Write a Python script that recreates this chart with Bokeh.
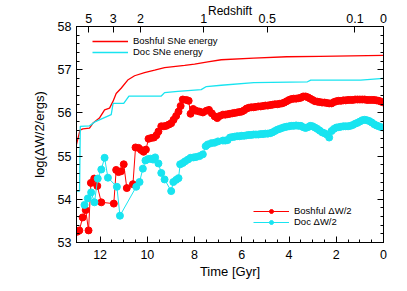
from bokeh.plotting import figure
from bokeh.models import (Range1d, LinearAxis, SingleIntervalTicker, FixedTicker,
                          Legend, LegendItem)
from bokeh.embed import file_html
from bokeh.resources import INLINE

# ---------------- data ----------------
# SNe energy curves (time in Gyr lookback, log energy)
bosh_sne_t = [13.0, 12.85, 12.73, 12.45, 12.31, 12.03, 11.81, 11.60, 11.46, 11.32, 11.11,
              10.83, 10.54, 10.12, 9.69, 9.27, 8.42, 8.0, 7.44, 6.87, 5.5, 4.1, 2.7, 0.0]
bosh_sne_v = [55.27, 55.60, 55.63, 55.65, 55.76, 55.88, 56.07, 56.11, 56.26, 56.45, 56.57,
              56.76, 56.86, 56.93, 56.99, 57.05, 57.10, 57.13, 57.18, 57.23, 57.27, 57.30, 57.31, 57.33]

doc_sne_t = [13.0, 12.87, 12.84, 12.45, 12.2, 11.53, 11.45, 11.0, 10.78, 9.41, 9.27, 8.71,
             7.72, 7.5, 6.87, 5.49, 3.22, 3.08, 0.97, 0.0]
doc_sne_v = [54.19, 54.19, 55.69, 55.70, 55.80, 55.96, 56.22, 56.22, 56.39, 56.39, 56.47, 56.50,
             56.54, 56.61, 56.64, 56.70, 56.72, 56.76, 56.76, 56.80]

# Delta W / 2 series
bosh_dw_t = [12.96, 12.88, 12.74, 12.61, 12.49, 12.39, 12.25, 12.12, 11.95,
             11.42, 11.32, 11.22, 11.11, 11.0, 10.87,
             10.61, 10.50, 10.37, 10.26, 10.16, 10.06, 9.95, 9.83, 9.72, 9.62, 9.53, 9.41,
             9.30, 9.20, 9.09, 8.99, 8.89, 8.78, 8.68, 8.59, 8.50, 8.35, 8.25, 8.17, 8.06,
             7.93, 7.79, 7.65, 7.50, 7.39, 7.27, 7.15, 7.04, 6.93, 6.80,
             6.7, 6.6, 6.5, 6.4, 6.3, 6.2, 6.1, 6.0, 5.9, 5.8, 5.7, 5.6, 5.5, 5.4, 5.3, 5.2,
             5.1, 5.0, 4.9, 4.8, 4.7, 4.6, 4.5, 4.4, 4.3, 4.2, 4.1, 4.0, 3.9, 3.8, 3.7, 3.6,
             3.5, 3.4, 3.3, 3.2, 3.1, 3.0, 2.9, 2.8, 2.7, 2.6, 2.5, 2.4, 2.3, 2.2, 2.1, 2.0,
             1.9, 1.8, 1.7, 1.6, 1.5, 1.4, 1.3, 1.2, 1.1, 1.0, 0.9, 0.8, 0.7, 0.6, 0.5, 0.4,
             0.3, 0.2, 0.1, 0.0]
bosh_dw_v = [53.25, 53.28, 53.58, 53.75, 53.28, 54.38, 54.48, 54.31, 53.93,
             53.90, 54.68, 54.63, 54.65, 54.81, 54.26,
             54.35, 55.20, 55.19, 55.14, 55.10, 55.15, 55.40, 55.42, 55.43, 55.48, 55.57, 55.69,
             55.69, 55.70, 55.73, 55.76, 55.84, 55.93, 56.03, 56.16, 56.31, 56.30, 56.28, 55.98, 56.09,
             56.05, 56.03, 56.01, 56.05, 56.07, 55.99, 55.92, 55.88, 55.93, 55.96,
             55.96, 55.97, 55.98, 55.99, 56.00, 56.01, 56.02, 56.03, 56.06, 56.10, 56.12, 56.13,
             56.13, 56.14, 56.15, 56.15, 56.16, 56.17, 56.17, 56.18, 56.19, 56.20, 56.20, 56.21,
             56.22, 56.24, 56.27, 56.30, 56.32, 56.33, 56.33, 56.34, 56.35, 56.38, 56.38, 56.36,
             56.33, 56.30, 56.27, 56.26, 56.25, 56.24, 56.24, 56.23, 56.22, 56.22, 56.25, 56.27,
             56.28, 56.28, 56.29, 56.29, 56.30, 56.30, 56.30, 56.31, 56.31, 56.31, 56.31, 56.31,
             56.30, 56.30, 56.30, 56.30, 56.29, 56.28, 56.26, 56.24]

doc_dw_t = [12.66, 12.52, 12.38, 12.24, 12.10, 11.95, 11.81, 11.67,
            11.29, 11.16,
            10.47, 10.33, 10.19, 10.08, 9.97, 9.86, 9.76, 9.67, 9.53, 9.41, 9.27,
            8.99, 8.90, 8.78, 8.68, 8.61, 8.50, 8.40, 8.28, 8.17, 8.04, 7.93, 7.79, 7.65,
            7.53, 7.44, 7.29, 7.15, 7.01, 6.80,
            6.7, 6.6, 6.5, 6.4, 6.3, 6.2, 6.1, 6.0, 5.9, 5.8, 5.7, 5.6, 5.5, 5.4, 5.3, 5.2,
            5.1, 5.0, 4.9, 4.8, 4.7, 4.6, 4.5, 4.4, 4.3, 4.2, 4.1, 4.0, 3.9, 3.8, 3.7, 3.6,
            3.5, 3.4, 3.3, 3.2, 3.1, 3.0, 2.9, 2.8, 2.7, 2.6, 2.5, 2.4, 2.3, 2.2, 2.1, 2.0,
            1.9, 1.8, 1.7, 1.6, 1.5, 1.4, 1.3, 1.2, 1.1, 1.0, 0.9, 0.8, 0.7, 0.6, 0.5, 0.4,
            0.3, 0.2, 0.1, 0.0]
doc_dw_v = [53.87, 54.02, 54.16, 53.93, 54.48, 54.69, 54.96, 54.50,
            54.29, 53.62,
            54.29, 54.40, 54.71, 54.90, 54.93, 54.94, 54.92, 54.97, 54.83, 54.61, 54.46,
            54.19, 54.40, 54.45, 54.49, 54.81, 54.84, 54.88, 54.92, 54.96, 54.97, 54.98, 55.00, 55.04,
            55.23, 55.27, 55.30, 55.31, 55.34, 55.36,
            55.36, 55.37, 55.43, 55.44, 55.45, 55.46, 55.46, 55.47, 55.47, 55.48, 55.49, 55.49,
            55.50, 55.50, 55.50, 55.51, 55.51, 55.52, 55.52, 55.53, 55.55, 55.58, 55.61, 55.63,
            55.65, 55.67, 55.68, 55.69, 55.70, 55.70, 55.71, 55.70, 55.70, 55.67, 55.65, 55.67,
            55.70, 55.69, 55.66, 55.63, 55.59, 55.55, 55.53, 55.50, 55.43, 55.58, 55.63, 55.66,
            55.67, 55.68, 55.69, 55.69, 55.69, 55.70, 55.72, 55.75, 55.77, 55.80, 55.83, 55.84,
            55.83, 55.81, 55.78, 55.74, 55.71, 55.69, 55.67, 55.66]

# top axis: redshift labels at their lookback times (Gyr)
z_tick_t = [12.48, 11.44, 10.29, 7.61, 4.92, 1.21, 0.0]
z_tick_labels = ["5", "3", "2", "1", "0.5", "0.1", "0"]

# ---------------- styling ----------------
RED = "#ff0000"
CYAN = "#18e4f0"
FONT = "Liberation Sans"

p = figure(width=407, height=291, output_backend="svg", toolbar_location=None,
           x_range=Range1d(13, 0), y_range=Range1d(53, 58),
           x_axis_location=None, y_axis_location=None,
           min_border_left=76, min_border_right=24, min_border_top=25, min_border_bottom=49)
p.grid.visible = False
p.outline_line_color = "black"
p.outline_line_width = 1
p.background_fill_color = "white"
p.border_fill_color = "white"


def style_axis(ax):
    ax.axis_line_color = "black"
    ax.major_tick_line_color = "black"
    ax.minor_tick_line_color = "black"
    ax.major_tick_in = 6
    ax.major_tick_out = 0
    ax.minor_tick_in = 3
    ax.minor_tick_out = 0
    ax.major_label_text_font = FONT
    ax.major_label_text_font_size = "12.5px"
    ax.major_label_text_color = "black"
    ax.axis_label_text_font = FONT
    ax.axis_label_text_font_size = "13px"
    ax.axis_label_text_font_style = "normal"
    ax.axis_label_text_color = "black"


xb = LinearAxis(ticker=SingleIntervalTicker(interval=2, num_minor_ticks=4), axis_label="Time [Gyr]")
style_axis(xb)
xb.major_label_standoff = 7
xb.axis_label_standoff = 2
p.add_layout(xb, "below")

xt = LinearAxis(ticker=FixedTicker(ticks=z_tick_t, minor_ticks=[]),
                major_label_overrides=dict(zip(z_tick_t, z_tick_labels)),
                axis_label="Redshift")
style_axis(xt)
xt.major_label_standoff = 4
xt.axis_label_text_font_size = "12px"
xt.axis_label_standoff = -7
p.add_layout(xt, "above")

yl = LinearAxis(ticker=SingleIntervalTicker(interval=1, num_minor_ticks=5), axis_label="log(ΔW/2/ergs)")
style_axis(yl)
yl.major_label_standoff = 5
yl.axis_label_standoff = 8
p.add_layout(yl, "left")

yr = LinearAxis(ticker=SingleIntervalTicker(interval=1, num_minor_ticks=5),
                major_label_overrides={k: "" for k in range(53, 59)})
style_axis(yr)
yr.major_label_standoff = 0
p.add_layout(yr, "right")

# ---------------- renderers ----------------
r_bs = p.line(bosh_sne_t, bosh_sne_v, line_color=RED, line_width=1.3)
r_ds = p.line(doc_sne_t, doc_sne_v, line_color=CYAN, line_width=1.3)

r_bl = p.line(bosh_dw_t, bosh_dw_v, line_color=RED, line_width=1)
r_bp = p.scatter(bosh_dw_t, bosh_dw_v, size=7, fill_color=RED, line_color=RED)
r_dl = p.line(doc_dw_t, doc_dw_v, line_color=CYAN, line_width=1)
r_dp = p.scatter(doc_dw_t, doc_dw_v, size=7, fill_color=CYAN, line_color=CYAN)


def make_legend(items, loc):
    return Legend(items=items, location=loc, glyph_width=36, glyph_height=10, label_height=10,
                  padding=0, spacing=-2, margin=0, label_standoff=5,
                  label_text_font=FONT, label_text_font_size="9.5px", label_text_color="black",
                  border_line_color=None, background_fill_alpha=0)


leg1 = make_legend([LegendItem(label="Boshful SNe energy", renderers=[r_bs]),
                    LegendItem(label="Doc SNe energy", renderers=[r_ds])], (16, 185))
leg2 = make_legend([LegendItem(label="Boshful ΔW/2", renderers=[r_bl, r_bp]),
                    LegendItem(label="Doc ΔW/2", renderers=[r_dl, r_dp])], (177, 15))
p.add_layout(leg1)
p.add_layout(leg2)

open("out.html", "w").write(file_html(p, INLINE))
